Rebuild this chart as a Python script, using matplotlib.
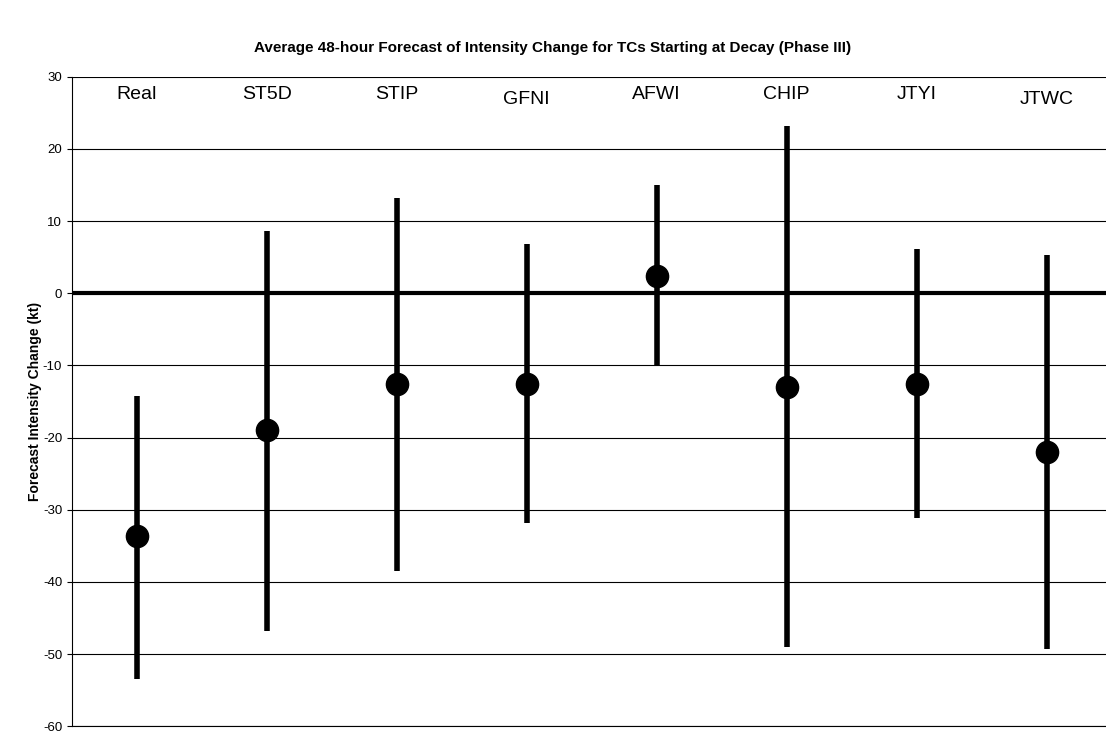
import matplotlib.pyplot as plt
import numpy as np

plt.rcParams['font.family'] = ['Liberation Sans', 'DejaVu Sans']
plt.rcParams['axes.unicode_minus'] = False

models = ['Real', 'ST5D', 'STIP', 'GFNI', 'AFWI', 'CHIP', 'JTYI', 'JTWC']
mean = [-33.7, -19.0, -12.6, -12.6, 2.4, -13.0, -12.6, -22.0]
upper = [-14.3, 8.6, 13.2, 6.8, 15.0, 23.2, 6.1, 5.3]
lower = [-53.5, -46.8, -38.5, -31.8, -10.1, -49.0, -31.1, -49.3]
label_y = [27.5, 27.5, 27.5, 26.8, 27.5, 27.5, 27.5, 26.8]

fig = plt.figure(figsize=(11.06, 7.38), dpi=100)
ax = fig.add_axes([0.065, 0.016, 0.94, 0.88])
x = np.arange(len(models))

ax.set_ylim(-60, 30)
ax.set_xlim(-0.5, 7.5)
ax.set_yticks(np.arange(-60, 31, 10))
ax.yaxis.grid(True, color='black', linewidth=0.8)
ax.set_axisbelow(True)
ax.axhline(0, color='black', linewidth=3)

ax.vlines(x, lower, upper, color='black', linewidth=4)
ax.plot(x, mean, 'o', color='black', markersize=16)

for xi, m, ly in zip(x, models, label_y):
    ax.text(xi, ly, m, ha='center', va='center', fontsize=14)

ax.set_xticks([])
for s in ['top', 'right']:
    ax.spines[s].set_visible(False)
ax.spines['bottom'].set_linewidth(0.8)
ax.tick_params(axis='y', labelsize=9.5)
ax.set_ylabel('Forecast Intensity Change (kt)', fontweight='bold', fontsize=10)
ax.yaxis.set_label_coords(-0.029, 0.5)
fig.suptitle('Average 48-hour Forecast of Intensity Change for TCs Starting at Decay (Phase III)',
             fontweight='bold', fontsize=11, y=0.945)

fig.savefig('out.png')
